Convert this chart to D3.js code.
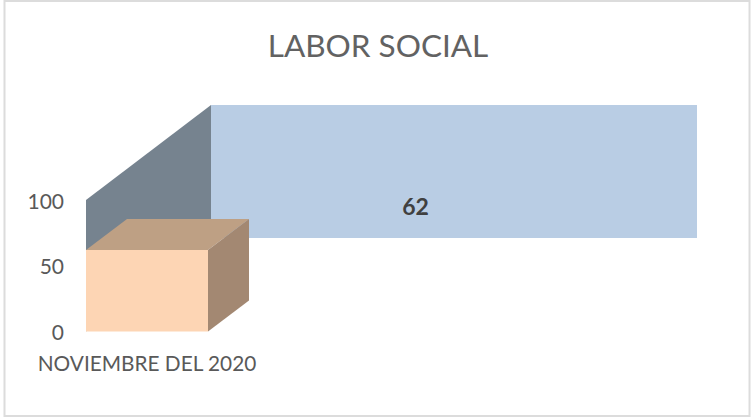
<!DOCTYPE html>
<html>
<head>
<meta charset="UTF-8">
<title>Labor social</title>
<script src="https://d3js.org/d3.v7.min.js"></script>
<style>
	html, body { margin: 0; padding: 0; background: #fff; }
	svg { display: block; }
	text { font-family: Lato, "Open Sans", sans-serif; fill: #595959; }
</style>
</head>
<body>
<svg id="chart" width="751" height="419"></svg>
<script>
	var title = "LABOR SOCIAL";
	var categories = ["NOVIEMBRE DEL 2020"];
	var values = [62];
	var yTicks = [0, 50, 100];

	var svg = d3.select("#chart");

	// chart frame
	svg.append("rect")
		.attr("x", 4.5).attr("y", 1)
		.attr("width", 745).attr("height", 415)
		.attr("fill", "#fff")
		.attr("stroke", "#dcdcdc")
		.attr("stroke-width", 2);

	var y = d3.scaleLinear().domain([0, 100]).range([331.5, 200]);
	var x = d3.scaleBand().domain(categories).range([86, 208]);

	// depth of the wall and of the bar
	var wallDx = 125, wallDy = 95;
	var barDx = 41, barDy = 31;
	var wallRight = 697;

	function poly(pts, fill) {
		svg.append("polygon")
			.attr("points", pts.map(function(p) { return p.join(","); }).join(" "))
			.attr("fill", fill);
	}

	var x0 = x.range()[0];

	// back wall
	poly([[x0 + wallDx, y(100) - wallDy], [wallRight, y(100) - wallDy],
		[wallRight, y(0) - wallDy + 1.5], [x0 + wallDx, y(0) - wallDy + 1.5]], "#b9cde4");

	// left wall
	poly([[x0, y(100)], [x0 + wallDx, y(100) - wallDy],
		[x0 + wallDx, y(0) - wallDy], [x0, y(0)]], "#76838f");

	// the bar
	categories.forEach(function(c, i) {
		var l = x(c), r = l + x.bandwidth(), t = y(values[i]), b = y(0);
		poly([[l, t], [l + barDx, t - barDy], [r + barDx, t - barDy], [r, t]], "#bea084");
		poly([[r, t], [r + barDx, t - barDy], [r + barDx, b - barDy], [r, b]], "#a38872");
		poly([[l, t], [r, t], [r, b], [l, b]], "#fdd5b4");

		svg.append("text")
			.attr("x", 415.5).attr("y", 206)
			.attr("text-anchor", "middle")
			.attr("dominant-baseline", "central")
			.attr("font-size", 23)
			.attr("font-weight", 700)
			.style("fill", "#404040")
			.text(values[i]);

		svg.append("text")
			.attr("x", l + x.bandwidth() / 2).attr("y", 362.5)
			.attr("text-anchor", "middle")
			.attr("dominant-baseline", "central")
			.attr("font-size", 20.8)
			.text(c);
	});

	// y tick labels
	svg.selectAll(".tick-label")
		.data(yTicks)
		.enter()
		.append("text")
			.attr("class", "tick-label")
			.attr("x", 64)
			.attr("y", function(d) { return y(d); })
			.attr("text-anchor", "end")
			.attr("dominant-baseline", "central")
			.attr("font-size", 21)
			.text(function(d) { return d; });

	svg.append("text")
		.attr("x", 378).attr("y", 45)
		.attr("text-anchor", "middle")
		.attr("dominant-baseline", "central")
		.attr("font-size", 31.5)
		.style("fill", "#626262")
		.text(title);
</script>
</body>
</html>
